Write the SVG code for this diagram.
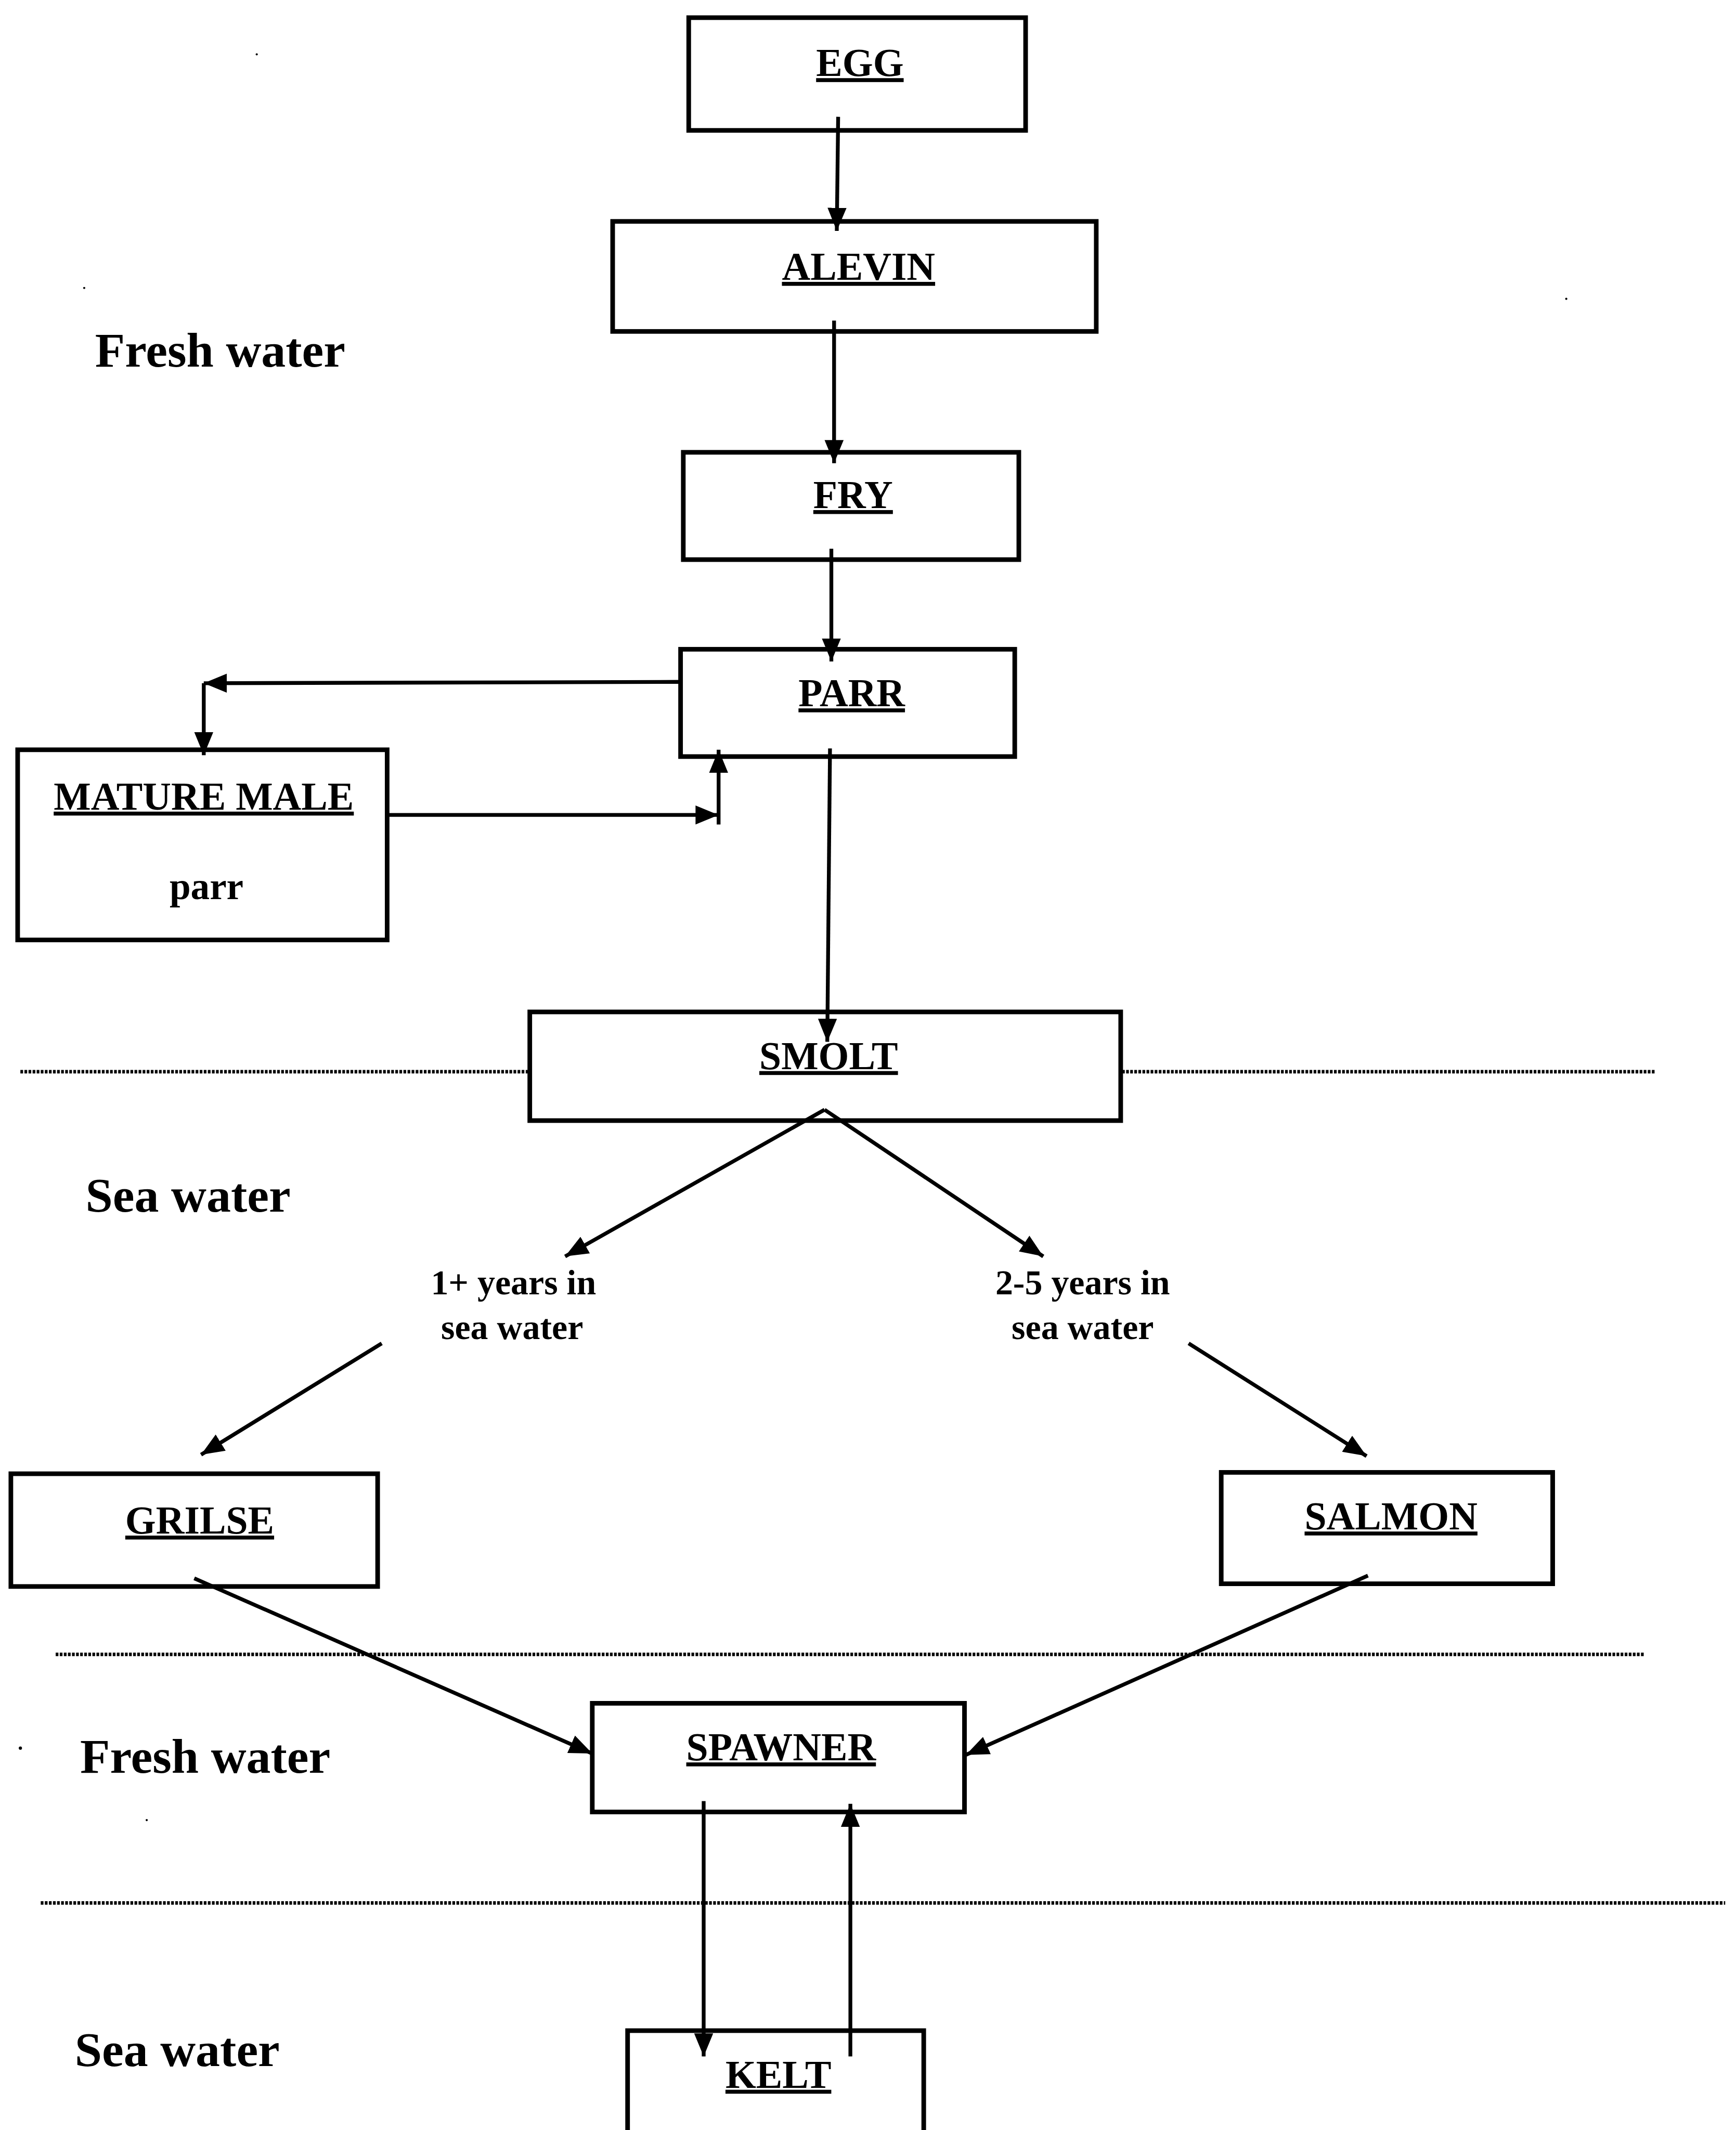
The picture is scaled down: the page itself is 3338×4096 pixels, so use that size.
<svg xmlns="http://www.w3.org/2000/svg" width="3338" height="4096" viewBox="0 0 3338 4096">
  <style>
    .box { fill: none; stroke: #000; stroke-width: 3.4; }
    .lbl { font-family: "Liberation Serif", "Times New Roman", serif; font-weight: bold; font-size: 29px; text-anchor: middle; fill: #000; text-decoration: underline; }
    .sub { font-family: "Liberation Serif", "Times New Roman", serif; font-weight: bold; font-size: 28px; text-anchor: middle; fill: #000; }
    .zone { font-family: "Liberation Serif", "Times New Roman", serif; font-weight: bold; font-size: 36px; fill: #000; }
    .yrs { font-family: "Liberation Serif", "Times New Roman", serif; font-weight: bold; font-size: 26px; text-anchor: middle; fill: #000; }
    .con { fill: none; stroke: #000; stroke-width: 2.8; marker-end: url(#head); }
    .plain { fill: none; stroke: #000; stroke-width: 2.8; }
    .div { fill: none; stroke: #000; stroke-width: 2.6; stroke-dasharray: 2 1; }
  </style>
  <defs>
    <marker id="head" markerUnits="userSpaceOnUse" markerWidth="18" markerHeight="16" refX="17" refY="7" orient="auto">
      <path d="M0,0 L17,7 L0,14 z" fill="#000"/>
    </marker>
  </defs>
  <rect width="3338" height="4096" fill="#fff"/>
  <g transform="scale(2.612)">
    <!-- habitat boundaries -->
    <g id="boundaries">
      <line class="div" x1="15" y1="789" x2="390" y2="789"/>
      <line class="div" x1="826" y1="789" x2="1218" y2="789"/>
      <line class="div" x1="41" y1="1218" x2="1210" y2="1218"/>
      <line class="div" x1="30" y1="1401" x2="1270" y2="1401"/>
    </g>

    <!-- habitat labels -->
    <g id="zones">
      <text class="zone" x="70" y="270">Fresh water</text>
      <text class="zone" x="63" y="892">Sea water</text>
      <text class="zone" x="59" y="1305">Fresh water</text>
      <text class="zone" x="55" y="1521">Sea water</text>
    </g>

    <!-- life stages -->
    <g id="egg">
      <rect class="box" x="507" y="13" width="248" height="83"/>
      <text class="lbl" x="633" y="56">EGG</text>
    </g>
    <g id="alevin">
      <rect class="box" x="451" y="163" width="356" height="81"/>
      <text class="lbl" x="632" y="206">ALEVIN</text>
    </g>
    <g id="fry">
      <rect class="box" x="503" y="333" width="247" height="79"/>
      <text class="lbl" x="628" y="374">FRY</text>
    </g>
    <g id="parr">
      <rect class="box" x="501" y="478" width="246" height="79"/>
      <text class="lbl" x="627" y="520">PARR</text>
    </g>
    <g id="mature-male">
      <rect class="box" x="13" y="552" width="272" height="140"/>
      <text class="lbl" x="150" y="596">MATURE MALE</text>
      <text class="sub" x="152" y="662">parr</text>
    </g>
    <g id="smolt">
      <rect class="box" x="390" y="745" width="435" height="80"/>
      <text class="lbl" x="610" y="787">SMOLT</text>
    </g>
    <g id="grilse">
      <rect class="box" x="8" y="1085" width="270" height="83"/>
      <text class="lbl" x="147" y="1129">GRILSE</text>
    </g>
    <g id="salmon">
      <rect class="box" x="899" y="1084" width="244" height="82"/>
      <text class="lbl" x="1024" y="1126">SALMON</text>
    </g>
    <g id="spawner">
      <rect class="box" x="436" y="1254" width="274" height="80"/>
      <text class="lbl" x="575" y="1296">SPAWNER</text>
    </g>
    <g id="kelt">
      <rect class="box" x="462" y="1495" width="218" height="90"/>
      <text class="lbl" x="573" y="1537">KELT</text>
    </g>

    <!-- time at sea -->
    <g id="sea-years-short">
      <text class="yrs" x="378" y="953">1+ years in</text>
      <text class="yrs" x="377" y="986">sea water</text>
    </g>
    <g id="sea-years-long">
      <text class="yrs" x="797" y="953">2-5 years in</text>
      <text class="yrs" x="797" y="986">sea water</text>
    </g>

    <!-- connectors -->
    <g id="connectors">
      <line class="con" x1="617" y1="86" x2="616" y2="170"/>
      <line class="con" x1="614" y1="236" x2="614" y2="341"/>
      <line class="con" x1="612" y1="404" x2="612" y2="487"/>
      <!-- parr to precocious male -->
      <line class="con" x1="501" y1="502" x2="150" y2="503"/>
      <line class="con" x1="150" y1="503" x2="150" y2="556"/>
      <!-- precocious male back to parr -->
      <line class="con" x1="285" y1="600" x2="529" y2="600"/>
      <line class="con" x1="529" y1="607" x2="529" y2="552"/>
      <!-- parr to smolt -->
      <line class="con" x1="611" y1="551" x2="609" y2="767"/>
      <!-- smolt split -->
      <line class="con" x1="607" y1="817" x2="416" y2="925"/>
      <line class="con" x1="607" y1="817" x2="768" y2="925"/>
      <line class="con" x1="281" y1="989" x2="148" y2="1071"/>
      <line class="con" x1="875" y1="989" x2="1006" y2="1072"/>
      <!-- return to spawn -->
      <line class="con" x1="143" y1="1162" x2="436" y2="1291"/>
      <line class="con" x1="1007" y1="1160" x2="711" y2="1292"/>
      <!-- spawner / kelt -->
      <line class="con" x1="518" y1="1326" x2="518" y2="1514"/>
      <line class="con" x1="626" y1="1514" x2="626" y2="1328"/>
    </g>

    <!-- specks -->
    <g id="specks" fill="#000">
      <circle cx="189" cy="40" r="0.8"/>
      <circle cx="62" cy="212" r="0.8"/>
      <circle cx="1153" cy="220" r="0.8"/>
      <circle cx="15" cy="1287" r="1.2"/>
      <circle cx="108" cy="1340" r="0.8"/>
    </g>
  </g>
</svg>
